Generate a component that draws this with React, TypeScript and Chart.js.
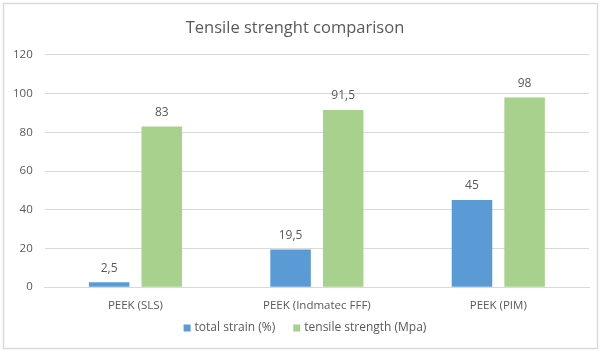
import React, { useEffect, useRef } from "react";
import { Chart, registerables } from "chart.js";

Chart.register(...registerables);

const categories = ["PEEK (SLS)", "PEEK (Indmatec FFF)", "PEEK (PIM)"];
const totalStrain = [2.5, 19.5, 45];
const tensileStrength = [83, 91.5, 98];
const seriesNames = ["total strain (%)", "tensile strength (Mpa)"];
const titleText = "Tensile strenght comparison";

const FONT = "'Open Sans', 'Liberation Sans', sans-serif";
const TEXT = "#595959";

const fmt = (v: number) => String(v).replace(".", ",");

const dataLabels = {
  id: "dataLabels",
  afterDatasetsDraw(chart: any) {
    const ctx = chart.ctx;
    ctx.save();
    ctx.font = `12px ${FONT}`;
    ctx.fillStyle = TEXT;
    ctx.textAlign = "center";
    ctx.textBaseline = "middle";
    chart.data.datasets.forEach((ds: any, i: number) => {
      const meta = chart.getDatasetMeta(i);
      meta.data.forEach((bar: any, j: number) => {
        ctx.fillText(fmt(ds.data[j]), bar.x, bar.y - 14);
      });
    });
    ctx.restore();
  },
};

const customLegend = {
  id: "customLegend",
  afterDraw(chart: any) {
    const ctx = chart.ctx;
    ctx.save();
    ctx.font = `12px ${FONT}`;
    ctx.textBaseline = "middle";
    ctx.textAlign = "left";
    const box = 7;
    const gapBoxText = 4;
    const gapItems = 18;
    const items = chart.data.datasets.map((ds: any) => ({
      label: ds.label,
      color: ds.backgroundColor,
      w: box + gapBoxText + ctx.measureText(ds.label).width,
    }));
    const total = items.reduce((s: number, it: any) => s + it.w, 0) + gapItems * (items.length - 1);
    let x = 305 - total / 2;
    const y = 328;
    items.forEach((it: any) => {
      ctx.fillStyle = it.color;
      ctx.fillRect(x, y - box / 2, box, box);
      ctx.fillStyle = TEXT;
      ctx.fillText(it.label, x + box + gapBoxText, y);
      x += it.w + gapItems;
    });
    ctx.restore();
  },
};

const frame = {
  id: "frame",
  beforeDraw(chart: any) {
    const ctx = chart.ctx;
    ctx.save();
    ctx.fillStyle = "#ffffff";
    ctx.fillRect(0, 0, chart.width, chart.height);
    ctx.strokeStyle = "#d9d9d9";
    ctx.lineWidth = 1.5;
    ctx.strokeRect(3.5, 3.5, 594, 345);
    ctx.restore();
  },
};

export default function App() {
  const ref = useRef<HTMLCanvasElement>(null);
  useEffect(() => {
    document.body.style.margin = "0";
    const chart = new Chart(ref.current!, {
      type: "bar",
      data: {
        labels: categories,
        datasets: [
          {
            label: seriesNames[0],
            data: totalStrain,
            backgroundColor: "#5B9BD5",
            categoryPercentage: 0.58,
            barPercentage: 0.77,
          },
          {
            label: seriesNames[1],
            data: tensileStrength,
            backgroundColor: "#A9D18E",
            categoryPercentage: 0.58,
            barPercentage: 0.77,
          },
        ],
      },
      options: {
        animation: false,
        responsive: false,
        maintainAspectRatio: false,
        layout: { padding: { left: 1, right: 11, top: 10, bottom: 37 } },
        plugins: {
          title: {
            display: true,
            text: titleText,
            color: TEXT,
            font: { family: FONT, size: 16.5, weight: "normal" },
            padding: { top: 8, bottom: 17 },
          },
          legend: { display: false },
          tooltip: { enabled: false },
        },
        scales: {
          x: {
            grid: { display: false },
            border: { display: true, color: "#d9d9d9" },
            ticks: { color: TEXT, font: { family: FONT, size: 11.5 }, padding: 4 },
          },
          y: {
            min: 0,
            max: 120,
            ticks: {
              stepSize: 20,
              color: TEXT,
              font: { family: FONT, size: 11.5 },
              padding: 12,
            },
            grid: { color: "#d9d9d9", drawTicks: false },
            border: { display: false },
          },
        },
      },
      plugins: [frame, dataLabels, customLegend],
    });
    return () => chart.destroy();
  }, []);
  return (
    <div style={{ position: "absolute", left: 0, top: 0, width: 600, height: 354, background: "#fff" }}>
      <canvas ref={ref} width={600} height={354} style={{ width: 600, height: 354, display: "block" }} />
    </div>
  );
}
